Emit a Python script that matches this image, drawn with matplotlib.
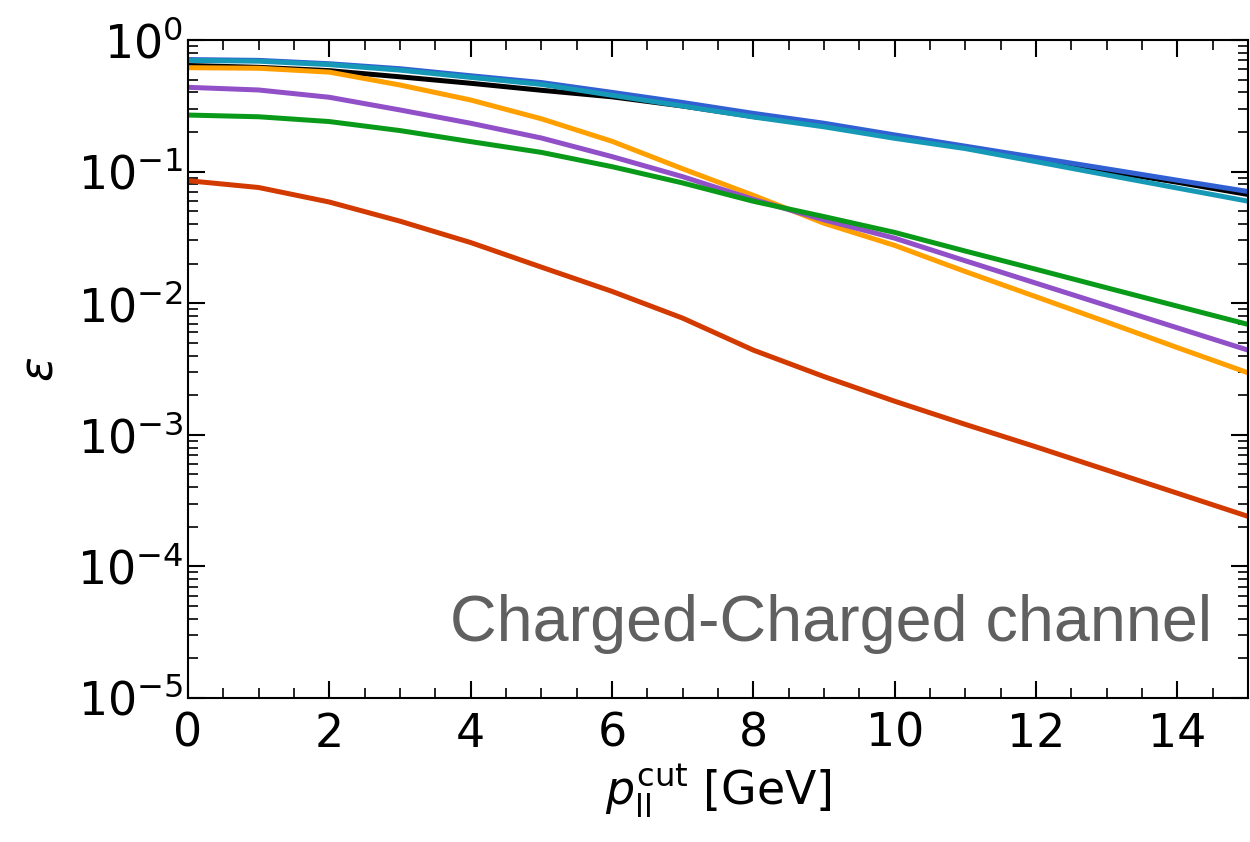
import numpy as np
import matplotlib
matplotlib.use('Agg')
import matplotlib.pyplot as plt
from matplotlib.ticker import LogLocator, MultipleLocator, NullFormatter

# p_ll^cut values [GeV]
p_cut = [0, 1, 2, 3, 4, 5, 6, 7, 8, 9, 10, 11, 12, 13, 14, 15]

# efficiencies
eff_black = [0.64, 0.62, 0.585, 0.525, 0.469, 0.415, 0.37, 0.315, 0.262, 0.225,
             0.185, 0.153, 0.125, 0.101, 0.083, 0.067]
eff_orange = [0.616, 0.61, 0.57, 0.455, 0.35, 0.252, 0.17, 0.105, 0.066, 0.0405,
              0.0275, 0.0174, 0.0112, 0.0072, 0.0046, 0.00296]
eff_purple = [0.437, 0.417, 0.367, 0.294, 0.233, 0.18, 0.13, 0.0915, 0.0615, 0.043,
              0.0312, 0.021, 0.0142, 0.0096, 0.0065, 0.0044]
eff_green = [0.269, 0.261, 0.24, 0.205, 0.169, 0.14, 0.109, 0.082, 0.0595, 0.0455,
             0.0345, 0.0249, 0.0181, 0.0131, 0.0095, 0.0069]
eff_red = [0.0853, 0.0757, 0.0587, 0.042, 0.0289, 0.0188, 0.0123, 0.0077, 0.0044,
           0.00277, 0.0018, 0.0012, 0.00081, 0.00054, 0.00036, 0.00024]
eff_blue = [0.71, 0.70, 0.66, 0.605, 0.535, 0.475, 0.40, 0.335, 0.277, 0.233,
            0.19, 0.156, 0.128, 0.105, 0.086, 0.0706]
eff_cyan = [0.70, 0.69, 0.65, 0.59, 0.52, 0.46, 0.38, 0.315, 0.26, 0.219,
            0.179, 0.1496, 0.119, 0.0944, 0.075, 0.0596]

lw = 3.6
fig = plt.figure(figsize=(12.5, 8.42), dpi=100)
ax = fig.add_axes([0.1504, 0.171, 0.848, 0.7815])

ax.plot(p_cut, eff_black, color='black', lw=lw)
ax.plot(p_cut, eff_orange, color='#ff9f00', lw=lw)
ax.plot(p_cut, eff_purple, color='#9150c8', lw=lw)
ax.plot(p_cut, eff_green, color='#0a9a1a', lw=lw)
ax.plot(p_cut, eff_red, color='#d23a00', lw=lw)
ax.plot(p_cut, eff_blue, color='#3160d2', lw=lw)
ax.plot(p_cut, eff_cyan, color='#1699b6', lw=lw)

ax.set_yscale('log')
ax.set_xlim(0, 15)
ax.set_ylim(1e-5, 1)

ax.xaxis.set_major_locator(MultipleLocator(2))
ax.xaxis.set_minor_locator(MultipleLocator(0.5))
ax.yaxis.set_major_locator(LogLocator(base=10, numticks=10))
ax.yaxis.set_minor_locator(LogLocator(base=10, subs=np.arange(2, 10), numticks=20))
ax.yaxis.set_minor_formatter(NullFormatter())

ax.tick_params(which='both', direction='in', top=True, right=True, labelsize=33)
ax.tick_params(which='major', length=12, width=1.5)
ax.tick_params(which='minor', length=7, width=1.2)
ax.tick_params(axis='x', pad=10)
for s in ax.spines.values():
    s.set_linewidth(1.5)

ax.set_ylabel(r'$\epsilon$', fontsize=33, labelpad=10)
ax.set_xlabel(r'$p_{\rm ll}^{\rm cut}$ [GeV]', fontsize=33, labelpad=4)

ax.text(0.966, 0.086, 'Charged-Charged channel', transform=ax.transAxes,
        ha='right', va='baseline', fontsize=46.5, color='#606060',
        family='Liberation Sans')

fig.savefig('out.png', dpi=100)
